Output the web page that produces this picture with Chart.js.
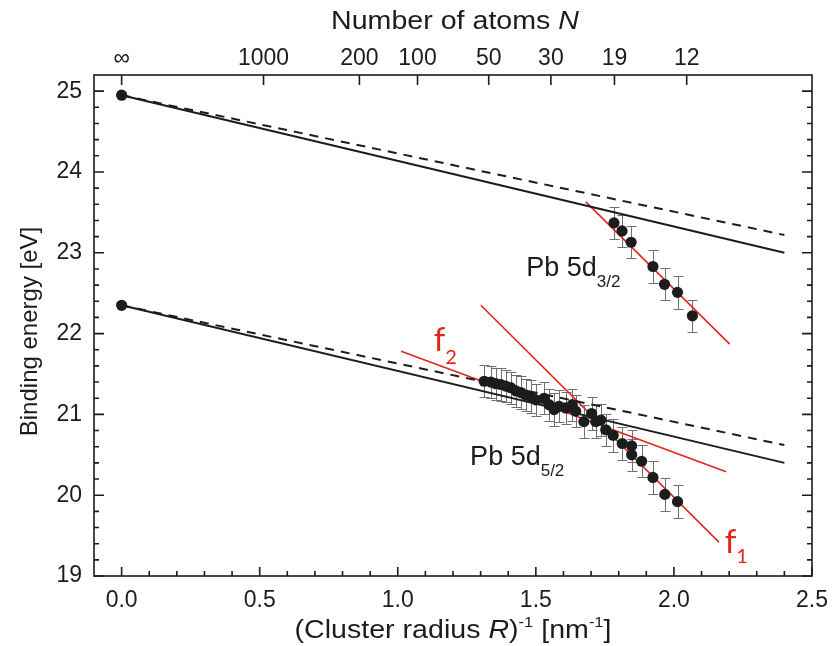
<!DOCTYPE html>
<html>
<head>
<meta charset="utf-8">
<script src="https://cdn.jsdelivr.net/npm/chart.js@4.4.0/dist/chart.umd.min.js"></script>
<style>
  html, body { margin: 0; padding: 0; background: #fff; }
  canvas { display: block; }
</style>
</head>
<body>
<canvas id="chart" width="832" height="646"></canvas>
<script>
// Pb 5d3/2 Messpunkte
const d32X = [1.783, 1.812, 1.845, 1.924, 1.966, 2.013, 2.067];
const d32Y = [23.37, 23.27, 23.13, 22.83, 22.61, 22.51, 22.22];
const d32Err = [0.2, 0.2, 0.2, 0.2, 0.2, 0.2, 0.2];

// Pb 5d5/2 Messpunkte
const d52X = [1.313, 1.337, 1.355, 1.373, 1.391, 1.409, 1.428, 1.446, 1.464, 1.482,
  1.500, 1.530, 1.548, 1.566, 1.584, 1.608, 1.632, 1.644, 1.674, 1.702,
  1.717, 1.735, 1.753, 1.780, 1.813, 1.847, 1.847, 1.883, 1.924, 1.967, 2.013];
const d52Y = [21.41, 21.40, 21.38, 21.37, 21.35, 21.33, 21.29, 21.27, 21.24, 21.22,
  21.18, 21.20, 21.12, 21.06, 21.10, 21.08, 21.12, 21.04, 20.91, 21.01,
  20.91, 20.93, 20.81, 20.74, 20.64, 20.61, 20.50, 20.42, 20.22, 20.01, 19.92];
const d52Err = d52X.map(() => 0.2);

// Festkoerperwerte (N = unendlich)
const bulkX = [0, 0];
const bulkY = [24.95, 22.35];

// Modellgeraden
const modelX = [0, 2.4];
const solid32 = [24.95, 23.00];
const dash32 = [24.95, 23.22];
const solid52 = [22.35, 20.40];
const dash52 = [22.35, 20.62];

// Fitgeraden (rot)
const f1X = [1.301, 2.163];
const f1Y = [22.35, 19.42];
const f2X = [1.012, 2.189];
const f2Y = [21.78, 20.29];
const f3X = [1.681, 2.202];
const f3Y = [23.63, 21.87];

// Achsenbeschriftung
const xTicks = [0, 0.5, 1.0, 1.5, 2.0, 2.5];
const yTicks = [19, 20, 21, 22, 23, 24, 25];
const topN = [Infinity, 1000, 200, 100, 50, 30, 19, 12];
const topLabels = ['\u221E', '1000', '200', '100', '50', '30', '19', '12'];

// R = 0.189 N^(1/3) + 0.056 nm
function invR(n) {
  return n === Infinity ? 0 : 1 / (0.189 * Math.cbrt(n) + 0.056);
}

const RED = '#e3261c';
const INK = '#1c1c1c';
const FONT = '"Liberation Sans", Arial, sans-serif';

const pts = (xs, ys) => xs.map((v, i) => ({ x: v, y: ys[i] }));

function lineSet(xs, ys, color, dash, width) {
  return {
    data: pts(xs, ys),
    showLine: true,
    borderColor: color,
    borderWidth: width,
    borderDash: dash || [],
    pointRadius: 0,
    fill: false,
    order: 2
  };
}

function dotSet(xs, ys) {
  return {
    data: pts(xs, ys),
    showLine: false,
    pointRadius: 5.6,
    pointBackgroundColor: INK,
    pointBorderColor: INK,
    pointBorderWidth: 0,
    order: 0
  };
}

// Fehlerbalken
const errorBars = {
  id: 'errorBars',
  beforeDatasetsDraw(chart) {
    const { ctx, scales: { x, y } } = chart;
    ctx.save();
    ctx.strokeStyle = '#707070';
    ctx.lineWidth = 1;
    ctx.beginPath();
    const draw = (xs, ys, es) => xs.forEach((xv, i) => {
      const px = Math.round(x.getPixelForValue(xv)) + 0.5;
      const top = Math.round(y.getPixelForValue(ys[i] + es[i])) + 0.5;
      const bot = Math.round(y.getPixelForValue(ys[i] - es[i])) + 0.5;
      ctx.moveTo(px, top); ctx.lineTo(px, bot);
      ctx.moveTo(px - 5, top); ctx.lineTo(px + 5, top);
      ctx.moveTo(px - 5, bot); ctx.lineTo(px + 5, bot);
    });
    draw(d32X, d32Y, d32Err);
    draw(d52X, d52Y, d52Err);
    ctx.stroke();
    ctx.restore();
  }
};

// Rahmen mit nach innen zeigenden Ticks
const frame = {
  id: 'frame',
  afterDatasetsDraw(chart) {
    const { ctx, chartArea: a, scales: { x, y, x2 } } = chart;
    ctx.save();
    ctx.strokeStyle = INK;
    ctx.lineWidth = 1.6;
    ctx.strokeRect(a.left, a.top, a.right - a.left, a.bottom - a.top);
    ctx.beginPath();
    for (let i = 0; i <= 25; i++) {
      const px = x.getPixelForValue(i / 10);
      const len = i % 5 === 0 ? 9 : 5;
      ctx.moveTo(px, a.bottom); ctx.lineTo(px, a.bottom - len);
    }
    for (let i = 0; i <= 30; i++) {
      const py = y.getPixelForValue(19 + i * 0.2);
      const len = i % 5 === 0 ? 10 : 5;
      ctx.moveTo(a.left, py); ctx.lineTo(a.left + len, py);
      ctx.moveTo(a.right, py); ctx.lineTo(a.right - len, py);
    }
    x2.ticks.forEach(t => {
      const px = x2.getPixelForValue(t.value);
      ctx.moveTo(px, a.top); ctx.lineTo(px, a.top + 10);
    });
    ctx.stroke();
    ctx.restore();
  }
};

// Text mit Hoch-/Tiefstellung, optional horizontal gestreckt
function richText(ctx, parts, x, y, align, sx) {
  sx = sx || 1;
  let total = 0;
  parts.forEach(p => {
    ctx.font = (p.italic ? 'italic ' : '') + p.size + 'px ' + (p.family || FONT);
    p.w = ctx.measureText(p.t).width;
    total += p.w;
  });
  ctx.save();
  ctx.translate(x, y);
  ctx.scale(sx, 1);
  let cx = align === 'center' ? -total / 2 : 0;
  parts.forEach(p => {
    ctx.font = (p.italic ? 'italic ' : '') + p.size + 'px ' + (p.family || FONT);
    ctx.fillText(p.t, cx, p.dy || 0);
    cx += p.w;
  });
  ctx.restore();
}

const labels = {
  id: 'labels',
  afterDraw(chart) {
    const { ctx, chartArea: a, scales: { x, y } } = chart;
    ctx.save();
    ctx.fillStyle = INK;
    ctx.textBaseline = 'alphabetic';
    ctx.textAlign = 'left';

    const cxm = (a.left + a.right) / 2;
    // Achsentitel
    richText(ctx, [{ t: 'Number of atoms ', size: 26 }, { t: 'N', size: 26, italic: true }],
      455, 29, 'center', 1.1);
    richText(ctx, [
      { t: '(Cluster radius ', size: 26 },
      { t: 'R', size: 26, italic: true },
      { t: ')', size: 26 },
      { t: '-1', size: 15, dy: -11 },
      { t: ' [nm', size: 26 },
      { t: '-1', size: 15, dy: -11 },
      { t: ']', size: 26 }
    ], cxm, 638, 'center', 1.1);

    ctx.save();
    ctx.translate(37, (a.top + a.bottom) / 2 + 6);
    ctx.rotate(-Math.PI / 2);
    richText(ctx, [{ t: 'Binding energy [eV]', size: 24 }], 0, 0, 'center');
    ctx.restore();

    // Bezeichnungen der Linien
    richText(ctx, [{ t: 'Pb 5d', size: 27 }, { t: '3/2', size: 17, dy: 11 }],
      x.getPixelForValue(1.465), y.getPixelForValue(22.71), 'left');
    richText(ctx, [{ t: 'Pb 5d', size: 27 }, { t: '5/2', size: 17, dy: 11 }],
      x.getPixelForValue(1.262), y.getPixelForValue(20.375), 'left');

    ctx.fillStyle = RED;
    const LF = 'Lato, "Open Sans", sans-serif';
    richText(ctx, [{ t: 'f', size: 33, family: LF }, { t: '2', size: 20, dy: 13, family: LF }],
      x.getPixelForValue(1.13), y.getPixelForValue(21.78), 'left');
    richText(ctx, [{ t: 'f', size: 33, family: LF }, { t: '1', size: 20, dy: 10, family: LF }],
      x.getPixelForValue(2.184), y.getPixelForValue(19.28), 'left');
    ctx.restore();
  }
};

const tickFont = { family: FONT, size: 23 };
const noPad = s => { s.paddingLeft = 0; s.paddingRight = 0; s.paddingTop = 0; s.paddingBottom = 0; };

new Chart(document.getElementById('chart'), {
  type: 'scatter',
  data: {
    datasets: [
      lineSet(modelX, solid32, INK, null, 2),
      lineSet(modelX, dash32, INK, [9, 7], 2),
      lineSet(modelX, solid52, INK, null, 2),
      lineSet(modelX, dash52, INK, [9, 7], 2),
      lineSet(f1X, f1Y, RED, null, 1.6),
      lineSet(f2X, f2Y, RED, null, 1.6),
      lineSet(f3X, f3Y, RED, null, 1.6),
      dotSet(d32X, d32Y),
      dotSet(d52X, d52Y),
      dotSet(bulkX, bulkY)
    ]
  },
  options: {
    responsive: false,
    animation: false,
    layout: { padding: { left: 0, right: 20, top: 0, bottom: 0 } },
    plugins: { legend: { display: false }, tooltip: { enabled: false } },
    scales: {
      x: {
        type: 'linear', position: 'bottom', min: -0.1, max: 2.5,
        afterBuildTicks: s => { s.ticks = xTicks.map(v => ({ value: v })); },
        afterFit: s => { s.height = 70; noPad(s); },
        grid: { display: false, drawTicks: false },
        border: { display: false },
        ticks: { font: tickFont, color: INK, padding: 11, maxRotation: 0, callback: v => v.toFixed(1) }
      },
      x2: {
        type: 'linear', position: 'top', min: -0.1, max: 2.5,
        afterBuildTicks: s => { s.ticks = topN.map(n => ({ value: invR(n) })); },
        afterFit: s => { s.height = 75; noPad(s); },
        grid: { display: false, drawTicks: false },
        border: { display: false },
        ticks: { font: tickFont, color: INK, padding: 3, maxRotation: 0, autoSkip: false,
          callback: (v, i) => topLabels[i] }
      },
      y: {
        type: 'linear', position: 'left', min: 19, max: 25.2,
        afterBuildTicks: s => { s.ticks = yTicks.map(v => ({ value: v })); },
        afterFit: s => { s.width = 94; noPad(s); },
        grid: { display: false, drawTicks: false },
        border: { display: false },
        ticks: { font: tickFont, color: INK, padding: 12, callback: v => String(v) }
      }
    }
  },
  plugins: [errorBars, frame, labels]
});
</script>
</body>
</html>
